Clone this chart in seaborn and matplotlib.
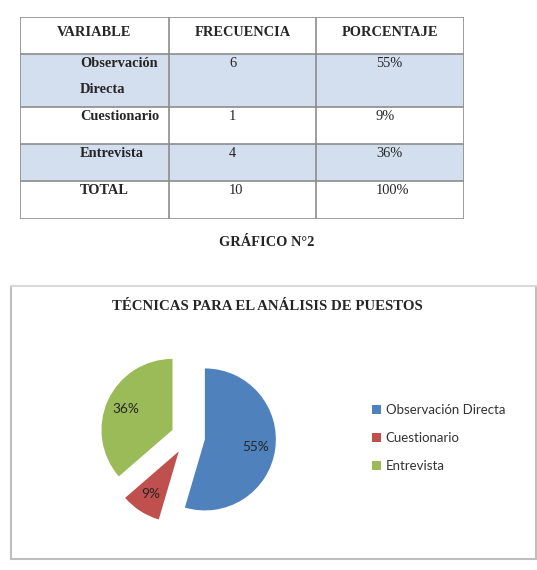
import matplotlib
matplotlib.use("Agg")
from matplotlib import pyplot as plt
import seaborn as sns

# Datos de la tabla / grafico
encabezados = ["VARIABLE", "FRECUENCIA", "PORCENTAJE"]
variables = ["Observación\nDirecta", "Cuestionario", "Entrevista"]
leyenda = ["Observación Directa", "Cuestionario", "Entrevista"]
frecuencia = [6, 1, 4]
porcentaje = ["55%", "9%", "36%"]
total = ["TOTAL", "10", "100%"]
colores = ["#4F81BD", "#C0504D", "#9BBB59"]

sns.set_style("white")
plt.rcParams['font.family'] = ['Liberation Serif', 'DejaVu Serif']

W, H = 537, 570
fig = plt.figure(figsize=(W / 100, H / 100), dpi=100)


def px_axes(x0, y0, x1, y1):
    # axes from pixel box (top-left origin)
    return fig.add_axes([x0 / W, 1 - y1 / H, (x1 - x0) / W, (y1 - y0) / H])


'''
Tabla
'''
ax_tab = px_axes(20, 17, 464, 219)
col_edges = [0, 149, 296, 444]
row_edges = [0, 37, 90, 127, 164, 202]
ax_tab.set_xlim(0, 444)
ax_tab.set_ylim(202, 0)
ax_tab.axis("off")

for i in [1, 3]:
    ax_tab.axhspan(row_edges[i], row_edges[i + 1], color="#D3DFEE", lw=0)
for y in row_edges:
    ax_tab.axhline(y, color="#8C8C8C", lw=1.2)
for x in col_edges:
    ax_tab.axvline(x, color="#8C8C8C", lw=1.2)

for j, h in enumerate(encabezados):
    ax_tab.text((col_edges[j] + col_edges[j + 1]) / 2, 16, h, ha="center",
                va="center", fontsize=10.4, fontweight="bold")

filas = [[v, str(f), p] for v, f, p in zip(variables, frecuencia, porcentaje)]
filas.append(total)
for i, fila in enumerate(filas):
    top = row_edges[i + 1]
    for j, txt in enumerate(fila):
        ax_tab.text(col_edges[j] + 60, top + 3, txt, ha="left", va="top",
                    fontsize=10.4, linespacing=2.3,
                    fontweight="bold" if j == 0 else "normal")

fig.text(267 / W, 1 - 243 / H, "GRÁFICO N°2", ha="center", va="center",
         fontsize=10.4, fontweight="bold")

'''
Grafico
'''
ax_box = px_axes(11, 286, 536, 559)
ax_box.set_xticks([])
ax_box.set_yticks([])
for s in ax_box.spines.values():
    s.set_color("#BFBFBF")
    s.set_linewidth(1.5)
ax_box.spines["top"].set_color("#D9D9D9")

fig.text(267 / W, 1 - 307 / H, "TÉCNICAS PARA EL ANÁLISIS DE PUESTOS",
         ha="center", va="center", fontsize=10.7, fontweight="bold")

r_px = 71
half = 110
ax_pie = px_axes(188 - half, 437 - half, 188 + half, 437 + half)
wedges, textos, pcts = ax_pie.pie(
    frecuencia, colors=colores, startangle=90, counterclock=False,
    explode=[0.24] * 3, autopct='%1.0f%%', pctdistance=0.72,
    wedgeprops=dict(linewidth=0),
    textprops=dict(fontsize=9.8, color="#262626", family=["Lato", "DejaVu Sans"]))
lim = half / r_px
ax_pie.set_xlim(-lim, lim)
ax_pie.set_ylim(-lim, lim)
ax_pie.set_aspect("equal")
ax_pie.axis("off")

fig.legend(wedges, leyenda, loc="center left",
           bbox_to_anchor=(372 / W, 1 - 438 / H), frameon=False,
           handlelength=0.65, handleheight=0.65, handletextpad=0.4,
           labelspacing=1.2, borderpad=0, borderaxespad=0,
           prop=dict(family=["Lato", "DejaVu Sans"], size=9.5),
           labelcolor="#333333")

fig.savefig("out.png", dpi=100)
